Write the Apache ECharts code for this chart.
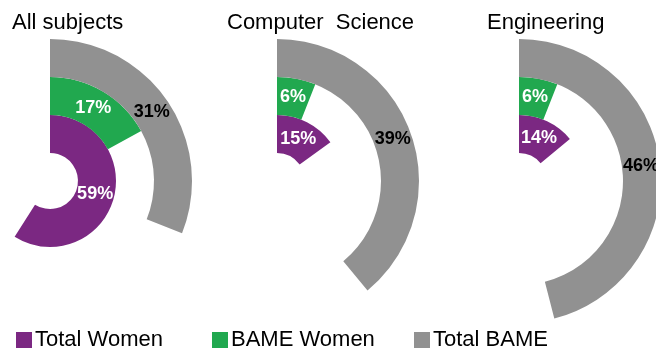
<!DOCTYPE html>
<html>
<head>
<meta charset="utf-8">
<script src="https://cdn.jsdelivr.net/npm/echarts@6/dist/echarts.min.js"></script>
<style>
html, body { margin: 0; padding: 0; background: #fff; }
#main { width: 656px; height: 352px; }
</style>
</head>
<body>
<div id="main"></div>
<script>
// panels and values (percent)
var panels = ['All subjects', 'Computer  Science', 'Engineering'];
var seriesNames = ['Total Women', 'BAME Women', 'Total BAME'];
var totalWomen = [59, 15, 14];
var bameWomen = [17, 6, 6];
var totalBame = [31, 39, 46];

var colors = ['#7b2882', '#21a84f', '#919191'];
var labelColors = ['#fff', '#fff', '#000'];
var centersX = [50, 277, 519]; // polar centres
var titleX = [12, 227, 487];
var legendX = [16, 212, 414];

var font = 'Arial, "Liberation Sans", sans-serif';

var chart = echarts.init(document.getElementById('main'));

var polar = [], angleAxis = [], radiusAxis = [], title = [], series = [];
var values = [totalWomen, bameWomen, totalBame];

panels.forEach(function (name, p) {
  polar.push({ center: [centersX[p], 181], radius: [28, 142] });
  angleAxis.push({
    polarIndex: p, type: 'value', min: 0, max: 100,
    startAngle: 90, clockwise: true,
    axisLine: { show: false }, axisTick: { show: false },
    axisLabel: { show: false }, splitLine: { show: false }
  });
  radiusAxis.push({
    polarIndex: p, type: 'category', data: seriesNames,
    axisLine: { show: false }, axisTick: { show: false },
    axisLabel: { show: false }, splitLine: { show: false }
  });
  title.push({
    text: name, left: titleX[p], top: 12, padding: 0,
    textStyle: { fontFamily: font, fontSize: 22, fontWeight: 'normal', color: '#000' }
  });
  // one series per ring, only its own category gets a value
  seriesNames.forEach(function (s, i) {
    var d = ['-', '-', '-'];
    d[i] = values[i][p];
    series.push({
      name: s,
      type: 'bar',
      coordinateSystem: 'polar',
      polarIndex: p,
      stack: 'panel' + p,
      barCategoryGap: '0%',
      data: d,
      itemStyle: { color: colors[i] },
      label: {
        show: true, position: 'middle', rotate: 0, formatter: '{c}%',
        fontFamily: font, fontSize: 18, fontWeight: 'bold', color: labelColors[i]
      },
      emphasis: { disabled: true },
      animation: false
    });
  });
});

var legend = seriesNames.map(function (s, i) {
  return {
    data: [s], left: legendX[i], top: 329, padding: 0,
    icon: 'rect', itemWidth: 16, itemHeight: 16,
    textStyle: { fontFamily: font, fontSize: 22, color: '#000', padding: [0, 0, 0, -2] }
  };
});

chart.setOption({
  backgroundColor: '#fff',
  title: title,
  legend: legend,
  polar: polar,
  angleAxis: angleAxis,
  radiusAxis: radiusAxis,
  series: series
});
</script>
</body>
</html>
